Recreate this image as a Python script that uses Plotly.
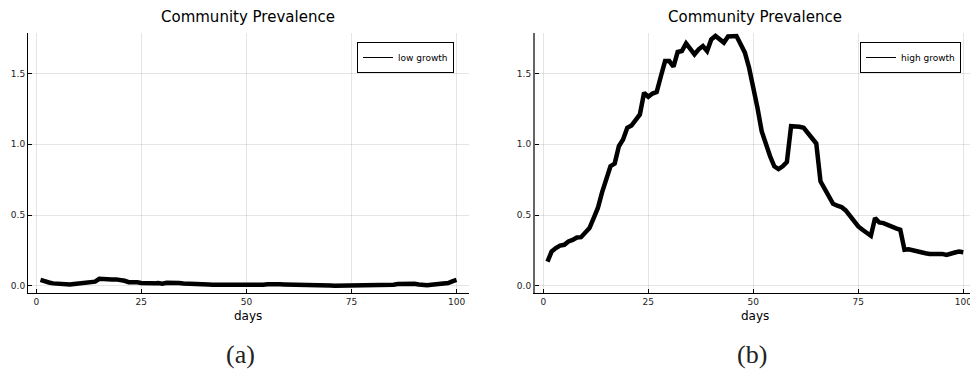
import plotly.graph_objects as go

days = list(range(1, 101))

low_growth = [
    0.042, 0.030, 0.024, 0.018, 0.014, 0.016, 0.013, 0.010, 0.014, 0.018,
    0.022, 0.026, 0.027, 0.030, 0.050, 0.046, 0.044, 0.045, 0.046, 0.042,
    0.036, 0.026, 0.028, 0.025, 0.020, 0.017, 0.019, 0.018, 0.020, 0.016,
    0.022, 0.023, 0.021, 0.020, 0.017, 0.015, 0.012, 0.008, 0.009, 0.010,
    0.010, 0.009, 0.009, 0.008, 0.007, 0.006, 0.004, 0.003, 0.003, 0.005,
    0.005, 0.006, 0.007, 0.009, 0.012, 0.014, 0.013, 0.011, 0.010, 0.010,
    0.008, 0.006, 0.005, 0.005, 0.004, 0.004, 0.003, 0.003, 0.003, 0.003,
    0.002, 0.002, 0.002, 0.002, 0.003, 0.002, 0.002, 0.003, 0.003, 0.003,
    0.002, 0.001, 0.001, 0.003, 0.008, 0.013, 0.015, 0.015, 0.016, 0.015,
    0.010, 0.006, 0.004, 0.008, 0.012, 0.012, 0.016, 0.020, 0.032, 0.042,
]

high_growth = [
    0.172, 0.243, 0.267, 0.285, 0.290, 0.314, 0.325, 0.342, 0.344, 0.377,
    0.408, 0.479, 0.550, 0.660, 0.750, 0.845, 0.863, 0.986, 1.033, 1.116,
    1.132, 1.170, 1.210, 1.363, 1.335, 1.358, 1.368, 1.480, 1.587, 1.587,
    1.547, 1.651, 1.658, 1.712, 1.675, 1.634, 1.670, 1.693, 1.658, 1.740,
    1.764, 1.740, 1.717, 1.760, 1.760, 1.764, 1.705, 1.646, 1.540, 1.410,
    1.257, 1.092, 0.998, 0.915, 0.844, 0.825, 0.844, 0.875, 1.127, 1.127,
    1.123, 1.116, 1.080, 1.045, 1.005, 0.738, 0.684, 0.632, 0.580, 0.566,
    0.557, 0.533, 0.495, 0.455, 0.420, 0.396, 0.373, 0.354, 0.479, 0.448,
    0.443, 0.429, 0.420, 0.406, 0.396, 0.255, 0.259, 0.250, 0.248, 0.236,
    0.231, 0.226, 0.226, 0.231, 0.226, 0.219, 0.231, 0.236, 0.243, 0.238,
]

x_ticks = [0, 25, 50, 75, 100]
y_ticks = [0.0, 0.5, 1.0, 1.5]
y_tick_text = ["0.0", "0.5", "1.0", "1.5"]
titles = ["Community Prevalence", "Community Prevalence"]
series_names = ["low growth", "high growth"]
x_label = "days"
sub_labels = ["(a)", "(b)"]

W, H = 970, 371
font = "DejaVu Sans"

fig = go.Figure()

# data traces
fig.add_trace(go.Scatter(x=days, y=low_growth, mode="lines",
                         line=dict(color="black", width=4.5),
                         showlegend=False, xaxis="x", yaxis="y"))
fig.add_trace(go.Scatter(x=days, y=high_growth, mode="lines",
                         line=dict(color="black", width=4.5),
                         showlegend=False, xaxis="x2", yaxis="y2"))
# legend entries (thin line like reference)
fig.add_trace(go.Scatter(x=[None], y=[None], mode="lines", name=series_names[0],
                         line=dict(color="black", width=1), legend="legend",
                         xaxis="x", yaxis="y"))
fig.add_trace(go.Scatter(x=[None], y=[None], mode="lines", name=series_names[1],
                         line=dict(color="black", width=1), legend="legend2",
                         xaxis="x2", yaxis="y2"))

y_bot = 1 - 293 / H
y_top = 1 - 33 / H

axis_common = dict(
    showgrid=True, gridcolor="rgba(0,0,0,0.1)", gridwidth=1,
    zeroline=False, showline=True, linecolor="black", linewidth=1,
    ticks="inside", ticklen=4, tickcolor="black",
    tickfont=dict(family=font, size=9, color="#222"),
    mirror=False, automargin=False,
)

fig.update_layout(
    width=W, height=H,
    margin=dict(l=0, r=0, t=0, b=0, pad=0),
    paper_bgcolor="white", plot_bgcolor="white",
    xaxis=dict(domain=[28 / W, 469 / W], range=[-1.97, 102.97],
               tickvals=x_ticks, anchor="y", **axis_common),
    yaxis=dict(domain=[y_bot, y_top], range=[-0.05, 1.785],
               tickvals=y_ticks, ticktext=y_tick_text, anchor="x", **axis_common),
    xaxis2=dict(domain=[535 / W, 1.0], range=[-1.97, 101.6],
                tickvals=x_ticks, anchor="y2", ticklabeloverflow="allow",
                **axis_common),
    yaxis2=dict(domain=[y_bot, y_top], range=[-0.05, 1.785],
                tickvals=y_ticks, ticktext=y_tick_text, anchor="x2",
                **{**axis_common, "linecolor": "#666", "linewidth": 2}),
    legend=dict(x=454 / W, xanchor="right", y=1 - 42 / H, yanchor="top",
                bordercolor="black", borderwidth=1, bgcolor="white",
                font=dict(family=font, size=9, color="black"),
                tracegroupgap=0, itemwidth=30),
    legend2=dict(x=961 / W, xanchor="right", y=1 - 42 / H, yanchor="top",
                 bordercolor="black", borderwidth=1, bgcolor="white",
                 font=dict(family=font, size=9, color="black"),
                 tracegroupgap=0, itemwidth=30),
)

ann = []
for cx, t in zip([248, 755], titles):
    ann.append(dict(x=cx / W, y=1 - 17 / H, xref="paper", yref="paper",
                    text=t, showarrow=False, xanchor="center", yanchor="middle",
                    font=dict(family=font, size=15, color="black")))
for cx in [248, 755]:
    ann.append(dict(x=cx / W, y=1 - 316 / H, xref="paper", yref="paper",
                    text=x_label, showarrow=False, xanchor="center", yanchor="middle",
                    font=dict(family=font, size=12, color="black")))
for cx, t in zip([240, 752], sub_labels):
    ann.append(dict(x=cx / W, y=1 - 354 / H, xref="paper", yref="paper",
                    text=t, showarrow=False, xanchor="center", yanchor="middle",
                    font=dict(family="Liberation Serif", size=26, color="#222")))
fig.update_layout(annotations=ann)

fig.write_html(
    "out.html",
    config={"displayModeBar": False},
    post_script="document.body.style.margin='0';document.body.style.overflow='hidden';",
)
